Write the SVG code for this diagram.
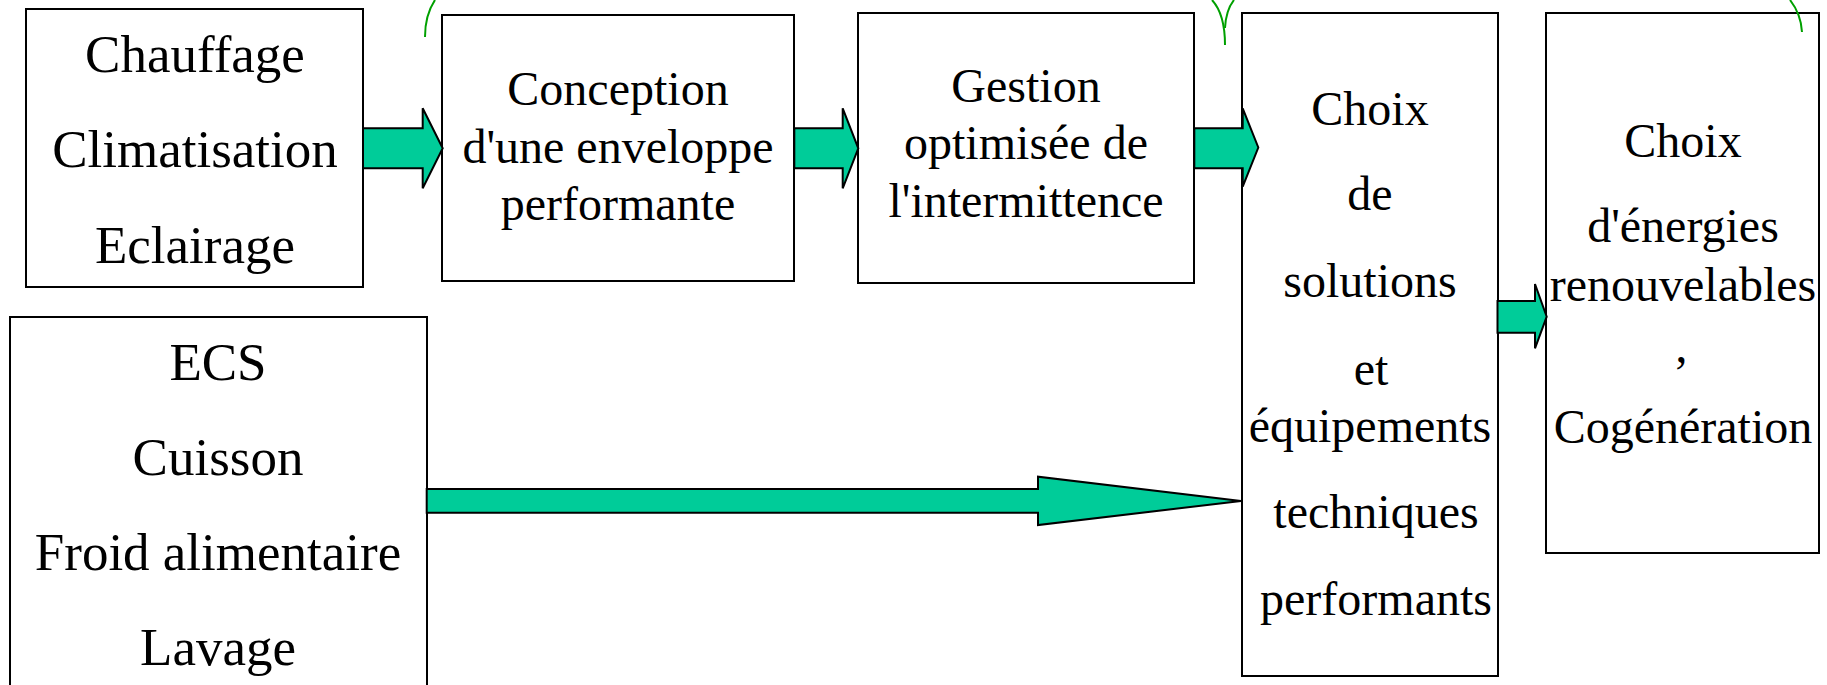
<svg xmlns="http://www.w3.org/2000/svg" width="1827" height="685" viewBox="0 0 1827 685">
<style>
.box{fill:#fff;stroke:#000;stroke-width:2}
.t{font-family:"Liberation Serif","Times New Roman",serif;fill:#000;text-anchor:middle}
.big{font-size:53px}
.med{font-size:48px}
.arr{fill:#00CC99;stroke:#000;stroke-width:2;stroke-linejoin:miter}
.deco{fill:none;stroke:#00A000;stroke-width:2}
</style>
<rect width="1827" height="685" fill="#fff"/>
<g id="n1">
<rect class="box" x="26" y="9" width="337" height="278"/>
<text class="t big" x="195" y="72">Chauffage</text>
<text class="t big" x="195" y="167">Climatisation</text>
<text class="t big" x="195" y="263">Eclairage</text>
</g>
<g id="n2">
<rect class="box" x="442" y="15" width="352" height="266"/>
<text class="t med" x="618" y="105">Conception</text>
<text class="t med" x="618" y="163">d'une enveloppe</text>
<text class="t med" x="618" y="220">performante</text>
</g>
<g id="n3">
<rect class="box" x="858" y="13" width="336" height="270"/>
<text class="t med" x="1026" y="102">Gestion</text>
<text class="t med" x="1026" y="159">optimisée de</text>
<text class="t med" x="1026" y="217">l'intermittence</text>
</g>
<g id="n4">
<rect class="box" x="1242" y="13" width="256" height="663"/>
<text class="t med" x="1370" y="125">Choix</text>
<text class="t med" x="1370" y="210">de</text>
<text class="t med" x="1370" y="297">solutions</text>
<text class="t med" x="1371" y="385">et</text>
<text class="t med" x="1370" y="442">équipements</text>
<text class="t med" x="1376" y="528">techniques</text>
<text class="t med" x="1376" y="615">performants</text>
</g>
<g id="n5">
<rect class="box" x="1546" y="13" width="273" height="540"/>
<text class="t med" x="1683" y="157">Choix</text>
<text class="t med" x="1683" y="242">d'énergies</text>
<text class="t med" x="1683" y="301">renouvelables</text>
<text class="t med" x="1681" y="389">’</text>
<text class="t med" x="1683" y="443">Cogénération</text>
</g>
<g id="n6">
<rect class="box" x="10" y="317" width="417" height="400"/>
<text class="t big" x="218" y="380">ECS</text>
<text class="t big" x="218" y="475">Cuisson</text>
<text class="t big" x="218" y="570">Froid alimentaire</text>
<text class="t big" x="218" y="665">Lavage</text>
</g>
<g id="connectors">
<polygon class="arr" points="363,128.3 422.7,128.3 422.7,108.3 442.7,148.3 422.7,188.3 422.7,168.3 363,168.3"/>
<polygon class="arr" points="794.3,128.3 842.7,128.3 842.7,108.3 858.3,148.3 842.7,188.3 842.7,168.3 794.3,168.3"/>
<polygon class="arr" points="1194.3,128.3 1242.7,128.3 1242.7,108.3 1258.3,147.5 1242.7,186.7 1242.7,168.3 1194.3,168.3"/>
<polygon class="arr" points="1497.5,301 1535,301 1535,284 1546.7,316.7 1535,348.3 1535,332.7 1497.5,332.7"/>
<polygon class="arr" points="426.7,489 1038,489 1038,476.7 1241,501 1038,525 1038,512.7 426.7,512.7"/>
</g>
<g id="decorations">
<path class="deco" d="M435 0 Q425 15 425 37"/>
<path class="deco" d="M1212 0 Q1225 14 1225 45"/>
<path class="deco" d="M1234 0 Q1226 10 1225 28"/>
<path class="deco" d="M1790 0 Q1801 14 1802 32"/>
</g>
</svg>
